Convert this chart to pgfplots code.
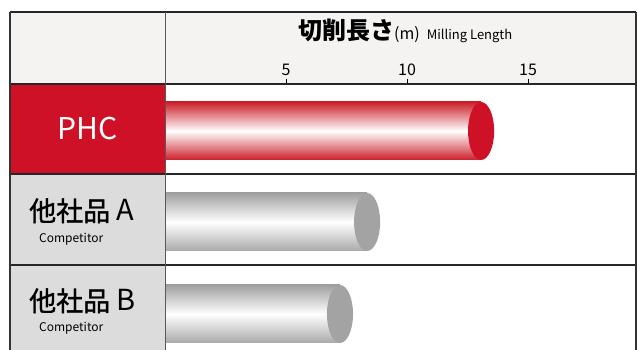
\documentclass[border=0pt]{standalone}
\usepackage{pgfplots}
\pgfplotsset{compat=1.18}
\usepackage{fontspec}
\setmainfont{Noto Sans CJK JP}
\newfontfamily\cjkmed[FakeBold=1.2]{Noto Sans CJK JP}

\definecolor{phcred}{HTML}{CE1126}
\definecolor{barred}{HTML}{CC1F2A}
\definecolor{capgrey}{HTML}{A2A3A2}
\definecolor{bargrey}{HTML}{A0A0A0}
\definecolor{hdrgrey}{HTML}{F4F3F1}
\definecolor{cellgrey}{HTML}{DCDCDC}

% end cap of the cylinders
\pgfdeclareplotmark{cap}{%
  \pgfpathellipse{\pgfpointorigin}{\pgfqpoint{0.45\pgfplotmarksize}{0pt}}{\pgfqpoint{0pt}{\pgfplotmarksize}}%
  \pgfusepathqfill}

\begin{document}
\begin{tikzpicture}[x=1pt,y=1pt]
% table cells
\fill[hdrgrey] (10,266) rectangle (636,338);
\fill[phcred] (10,176) rectangle (165,266);
\fill[cellgrey] (10,85) rectangle (165,176);
\fill[cellgrey] (10,0) rectangle (165,85);

\begin{scope}[shift={(165pt,0pt)}]
\begin{axis}[
    scale only axis,
    width=471pt, height=266pt,
    xmin=0, xmax=19.46,
    ymin=0, ymax=266,
    axis line style={draw=none},
    ytick=\empty,
    xtick={5,10,15},
    xtick pos=upper,
    tick align=outside,
    major tick length=5pt,
    tick style={black, line width=0.8pt},
    xticklabel style={font=\fontsize{16}{16}\selectfont},
    /pgf/number format/assume math mode=true,
    clip=false,
]
\addplot[xbar, bar shift=0pt, bar width=58pt, draw=none,
    top color=barred, bottom color=barred, middle color=white]
    coordinates {(13.06,219)};
\addplot[xbar, bar shift=0pt, bar width=58pt, draw=none,
    top color=bargrey, bottom color=bargrey!90, middle color=white]
    coordinates {(8.35,128)};
\addplot[xbar, bar shift=0pt, bar width=58pt, draw=none,
    top color=bargrey, bottom color=bargrey!90, middle color=white]
    coordinates {(7.23,36)};
\addplot[only marks, mark=cap, mark size=29pt, mark options={fill=phcred}]
    coordinates {(13.06,219)};
\addplot[only marks, mark=cap, mark size=29pt, mark options={fill=capgrey}]
    coordinates {(8.35,128) (7.23,36)};
\end{axis}
\end{scope}

% grid lines
\draw[line width=1.5pt, black!85] (10,338) -- (636,338);
\draw[line width=1.7pt, black!85] (10,266) -- (636,266);
\draw[line width=1.5pt, black!85] (10,176) -- (636,176);
\draw[line width=1.5pt, black!85] (10,85) -- (636,85);
\draw[line width=1.2pt, black!80] (10,338) -- (10,0);
\draw[line width=0.9pt, black!65] (165,338) -- (165,0);
\draw[line width=1.2pt, black!80] (636,338) -- (636,0);

% header title
\node[anchor=base west, inner sep=0pt] at (298,310)
  {\fontsize{24}{24}\selectfont\bfseries 切削長さ{\mdseries\fontsize{16}{16}\selectfont (m)}\hspace{7pt}{\mdseries\fontsize{13}{13}\selectfont Milling Length}};

% row labels
\node[white] at (87.5,221) {\fontsize{30}{30}\selectfont PHC};
\node[anchor=base west, inner sep=0pt] at (29,129) {\fontsize{27}{27}\selectfont{\cjkmed 他社品}\hspace{6pt}\fontsize{29}{29}\selectfont A};
\node[anchor=base west, inner sep=0pt] at (39,107) {\fontsize{12}{12}\selectfont Competitor};
\node[anchor=base west, inner sep=0pt] at (29,39) {\fontsize{27}{27}\selectfont{\cjkmed 他社品}\hspace{6pt}\fontsize{29}{29}\selectfont B};
\node[anchor=base west, inner sep=0pt] at (39,18) {\fontsize{12}{12}\selectfont Competitor};

\pgfresetboundingbox
\path (0,0) rectangle (637,350);
\end{tikzpicture}
\end{document}
